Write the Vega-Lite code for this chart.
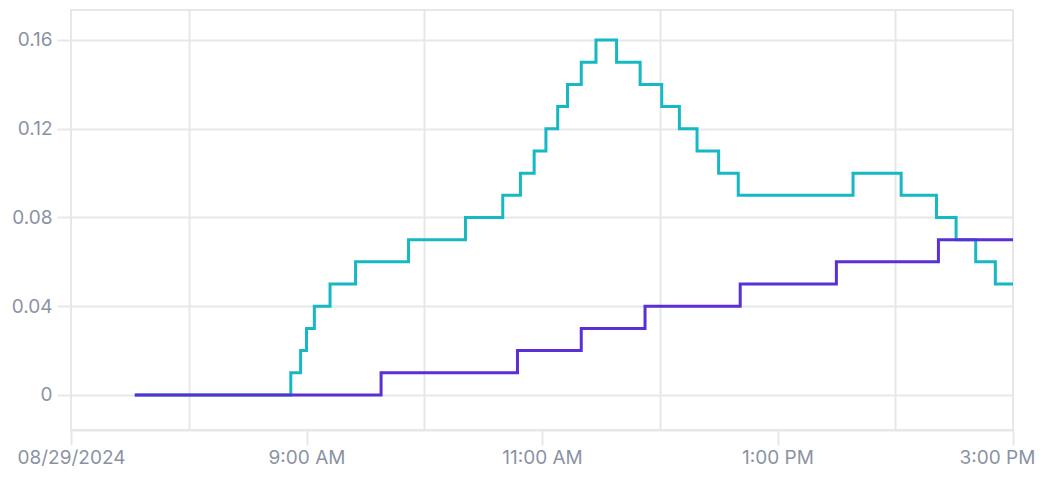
{
  "$schema": "https://vega.github.io/schema/vega-lite/v6.json",
  "width": 942,
  "height": 420,
  "autosize": {"type": "none"},
  "padding": {"left": 71, "top": 10, "right": 37, "bottom": 47},
  "background": "white",
  "config": {
    "view": {"stroke": "#e6e7eb", "strokeWidth": 2},
    "font": "Inter",
    "axis": {
      "labelFont": "Inter",
      "labelFontSize": 19,
      "labelColor": "#8a93a4",
      "gridColor": "#e6e7eb",
      "gridWidth": 2,
      "tickColor": "#e6e7eb",
      "tickWidth": 2,
      "domainColor": "#e6e7eb",
      "domainWidth": 2,
      "title": null
    }
  },
  "data": {
    "values": [
      {"time": "2024-08-29T07:32:30", "series": "teal", "value": 0},
      {"time": "2024-08-29T08:52:00", "series": "teal", "value": 0.01},
      {"time": "2024-08-29T08:57:00", "series": "teal", "value": 0.02},
      {"time": "2024-08-29T09:00:00", "series": "teal", "value": 0.03},
      {"time": "2024-08-29T09:04:00", "series": "teal", "value": 0.04},
      {"time": "2024-08-29T09:12:00", "series": "teal", "value": 0.05},
      {"time": "2024-08-29T09:25:00", "series": "teal", "value": 0.06},
      {"time": "2024-08-29T09:52:00", "series": "teal", "value": 0.07},
      {"time": "2024-08-29T10:21:00", "series": "teal", "value": 0.08},
      {"time": "2024-08-29T10:40:00", "series": "teal", "value": 0.09},
      {"time": "2024-08-29T10:49:00", "series": "teal", "value": 0.10},
      {"time": "2024-08-29T10:56:00", "series": "teal", "value": 0.11},
      {"time": "2024-08-29T11:02:00", "series": "teal", "value": 0.12},
      {"time": "2024-08-29T11:08:00", "series": "teal", "value": 0.13},
      {"time": "2024-08-29T11:13:00", "series": "teal", "value": 0.14},
      {"time": "2024-08-29T11:20:00", "series": "teal", "value": 0.15},
      {"time": "2024-08-29T11:27:30", "series": "teal", "value": 0.16},
      {"time": "2024-08-29T11:38:00", "series": "teal", "value": 0.15},
      {"time": "2024-08-29T11:50:00", "series": "teal", "value": 0.14},
      {"time": "2024-08-29T12:01:00", "series": "teal", "value": 0.13},
      {"time": "2024-08-29T12:10:00", "series": "teal", "value": 0.12},
      {"time": "2024-08-29T12:19:00", "series": "teal", "value": 0.11},
      {"time": "2024-08-29T12:30:00", "series": "teal", "value": 0.10},
      {"time": "2024-08-29T12:40:00", "series": "teal", "value": 0.09},
      {"time": "2024-08-29T13:38:30", "series": "teal", "value": 0.10},
      {"time": "2024-08-29T14:03:00", "series": "teal", "value": 0.09},
      {"time": "2024-08-29T14:21:00", "series": "teal", "value": 0.08},
      {"time": "2024-08-29T14:31:00", "series": "teal", "value": 0.07},
      {"time": "2024-08-29T14:41:00", "series": "teal", "value": 0.06},
      {"time": "2024-08-29T14:51:00", "series": "teal", "value": 0.05},
      {"time": "2024-08-29T15:00:00", "series": "teal", "value": 0.05},
      {"time": "2024-08-29T07:32:30", "series": "purple", "value": 0},
      {"time": "2024-08-29T09:38:00", "series": "purple", "value": 0.01},
      {"time": "2024-08-29T10:47:30", "series": "purple", "value": 0.02},
      {"time": "2024-08-29T11:20:00", "series": "purple", "value": 0.03},
      {"time": "2024-08-29T11:52:30", "series": "purple", "value": 0.04},
      {"time": "2024-08-29T12:41:00", "series": "purple", "value": 0.05},
      {"time": "2024-08-29T13:30:00", "series": "purple", "value": 0.06},
      {"time": "2024-08-29T14:22:00", "series": "purple", "value": 0.07},
      {"time": "2024-08-29T15:00:00", "series": "purple", "value": 0.07}
    ]
  },
  "encoding": {
    "x": {
      "field": "time",
      "type": "temporal",
      "scale": {
        "domain": [
          {"year": 2024, "month": 8, "date": 29, "hours": 7},
          {"year": 2024, "month": 8, "date": 29, "hours": 15}
        ]
      },
      "axis": {
        "values": [
          {"year": 2024, "month": 8, "date": 29, "hours": 7},
          {"year": 2024, "month": 8, "date": 29, "hours": 8},
          {"year": 2024, "month": 8, "date": 29, "hours": 9},
          {"year": 2024, "month": 8, "date": 29, "hours": 10},
          {"year": 2024, "month": 8, "date": 29, "hours": 11},
          {"year": 2024, "month": 8, "date": 29, "hours": 12},
          {"year": 2024, "month": 8, "date": 29, "hours": 13},
          {"year": 2024, "month": 8, "date": 29, "hours": 14},
          {"year": 2024, "month": 8, "date": 29, "hours": 15}
        ],
        "labelExpr": "hours(datum.value) == 7 ? '08/29/2024' : (hours(datum.value) % 2 == 1 ? timeFormat(datum.value, '%-I:%M %p') : '')",
        "grid": true,
        "gridOpacity": {"condition": {"test": "hours(datum.value) % 2 == 0", "value": 1}, "value": 0},
        "tickOpacity": {"condition": {"test": "hours(datum.value) % 2 == 1", "value": 1}, "value": 0},
        "labelOffset": {"condition": {"test": "hours(datum.value) == 15", "value": -16}, "value": 0},
        "tickSize": 15,
        "labelPadding": 3,
        "labelFlush": false,
        "labelOverlap": false,
        "domain": true
      }
    },
    "y": {
      "field": "value",
      "type": "quantitative",
      "scale": {"domain": [-0.015775, 0.173521], "nice": false, "zero": false},
      "axis": {
        "values": [0, 0.04, 0.08, 0.12, 0.16],
        "format": ".2~f",
        "tickSize": 14,
        "labelPadding": 5,
        "domain": false,
        "grid": true
      }
    }
  },
  "layer": [
    {
      "transform": [{"filter": "datum.series == 'teal'"}],
      "mark": {"type": "line", "interpolate": "step-after", "color": "#16b8c3", "strokeWidth": 3}
    },
    {
      "transform": [{"filter": "datum.series == 'purple'"}],
      "mark": {"type": "line", "interpolate": "step-after", "color": "#5a2fd6", "strokeWidth": 3}
    }
  ]
}
